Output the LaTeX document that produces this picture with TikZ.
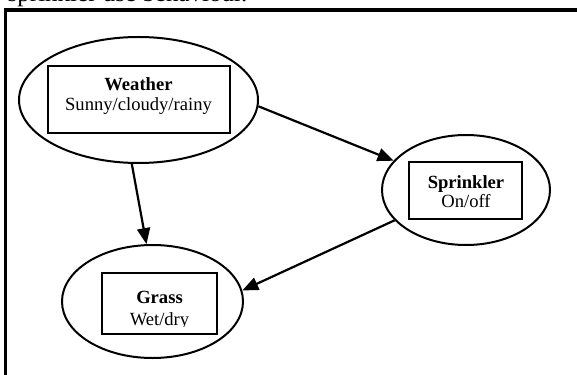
\documentclass[tikz,border=0pt]{standalone}
\usepackage{fontspec}
\setmainfont{Liberation Serif}
\usetikzlibrary{shapes.geometric,arrows.meta}
\begin{document}
\begin{tikzpicture}[x=1pt,y=-1pt,
  state/.style={ellipse, draw, line width=2pt, inner sep=0pt},
  valbox/.style={rectangle, draw, line width=1.6pt, inner sep=0pt},
  txt/.style={anchor=base, inner sep=0pt, font=\fontsize{18.6}{21}\selectfont},
  link/.style={line width=2.2pt, -{Triangle[length=16pt,width=13pt]}}]
\useasboundingbox (0,0) rectangle (577,374);
\begin{scope}
\clip (0,0) rectangle (577,374);
% caption line running above the frame
\node[anchor=base west, inner sep=0pt, font=\fontsize{25}{30}\selectfont] (caption) at (7.5,2) {sprinkler use behaviour.};
% thick outer frame
\draw[line width=3.6pt] (5.5,390) -- (5.5,10) -- (600,10);

% Weather
\node[state, minimum width=239pt, minimum height=126pt] (weather) at (138.5,100) {};
\node[valbox, minimum width=182pt, minimum height=67pt] (weatherbox) at (139,99.5) {};
\node[txt] (weathername) at (138.5,91) {\textbf{Weather}};
\node[txt] (weathervals) at (138.5,111) {Sunny/cloudy/rainy};

% Sprinkler
\node[state, minimum width=168pt, minimum height=110pt] (sprinkler) at (466,190) {};
\node[valbox, minimum width=113pt, minimum height=57pt] (sprinklerbox) at (465.5,190.5) {};
\node[txt] (sprinklername) at (466,188) {\textbf{Sprinkler}};
\node[txt] (sprinklervals) at (466,207) {On/off};

% Grass: the value line is cut by the inner margin of its box
\node[state, minimum width=181pt, minimum height=113pt] (grass) at (152.5,301.5) {};
\node[valbox, minimum width=115pt, minimum height=61pt] (grassbox) at (159.5,303.5) {};
\begin{scope}
\clip (grassbox.north west) rectangle ([yshift=8.5pt]grassbox.south east);
\node[txt] (grassname) at (159.5,303) {\textbf{Grass}};
\node[txt] (grassvals) at (159.5,325) {Wet/dry};
\end{scope}

% dependencies
\draw[link] (weather.-3.4) -- (sprinkler.158.5);
\draw[link] (weather.-96) -- (grass.96);
\draw[link] (sprinkler.-157) -- (grass.7.5);
\end{scope}
\end{tikzpicture}
\end{document}
